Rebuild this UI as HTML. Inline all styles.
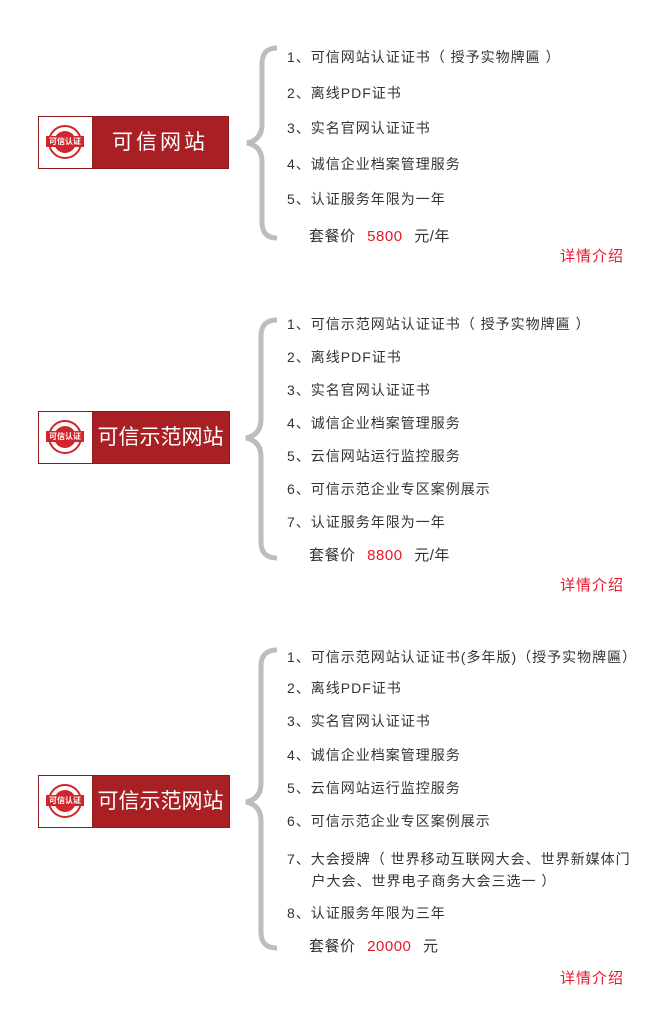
<!DOCTYPE html>
<html><head><meta charset="utf-8"><style>
body{margin:0;width:645px;height:1029px;background:#fff;position:relative;overflow:hidden;font-family:"Liberation Sans","Noto Sans CJK SC",sans-serif;color:#333}
.t{position:absolute;left:287px;font-size:14px;line-height:16px;white-space:nowrap;letter-spacing:1px}
.p{position:absolute;left:309px;font-size:15px;line-height:18px;white-space:nowrap;letter-spacing:0.5px}
.p b{font-weight:normal;color:#e8162a;margin:0 7px}
.d{position:absolute;left:560px;font-size:15px;line-height:18px;color:#e8162a;letter-spacing:1px}
.box{position:absolute;left:38px;height:53px;background:#a82024;border:1px solid #8e1a1d;box-sizing:border-box}
.logo{position:absolute;left:0;top:0;width:53px;height:51px;background:#fff;border-right:1px solid #8e1a1d}
.logo .c{position:absolute;left:9px;top:8px;width:34px;height:34px;border-radius:50%;border:2px solid #d0252b;box-sizing:border-box}
.logo .c i{position:absolute;left:4px;top:4px;width:22px;height:22px;border-radius:50%;background:#d0252b}
.logo .c span{position:absolute;left:-4px;top:9px;width:38px;height:11px;background:#d0252b;color:#fff;font-size:8px;line-height:11px;text-align:center;font-style:normal;font-weight:bold}
.name{position:absolute;left:53px;right:0;top:0;height:51px;line-height:51px;text-align:center;color:#fff;font-size:21px}
svg{position:absolute;left:0;top:0}
</style></head><body>
<svg width="645" height="1029"><g fill="none" stroke="#bdbdbd" stroke-width="5" stroke-linecap="butt">
<path d="M277,48 Q262,48 262,64 L262,124 Q262,140 247,143 Q262,146 262,162 L262,222 Q262,238 277,238"/>
<path d="M277,320 Q261,320 261,336 L261,419 Q261,435 246,438 Q261,441 261,457 L261,542 Q261,558 277,558"/>
<path d="M277,650 Q261,650 261,666 L261,783 Q261,799 246,802 Q261,805 261,821 L261,932 Q261,948 277,948"/>
</g></svg>

<div class="box" style="top:116px;width:191px"><div class="logo"><div class="c"><i></i><span>可信认证</span></div></div><div class="name" style="letter-spacing:3px">可信网站</div></div>
<div class="box" style="top:411px;width:192px"><div class="logo"><div class="c"><i></i><span>可信认证</span></div></div><div class="name">可信示范网站</div></div>
<div class="box" style="top:775px;width:192px"><div class="logo"><div class="c"><i></i><span>可信认证</span></div></div><div class="name">可信示范网站</div></div>

<div class="t" style="top:49px">1、可信网站认证证书（ 授予实物牌匾 ）</div>
<div class="t" style="top:85px">2、离线PDF证书</div>
<div class="t" style="top:120px">3、实名官网认证证书</div>
<div class="t" style="top:156px">4、诚信企业档案管理服务</div>
<div class="t" style="top:191px">5、认证服务年限为一年</div>
<div class="p" style="top:228px">套餐价 <b>5800</b> 元/年</div>
<div class="d" style="top:248px">详情介绍</div>

<div class="t" style="top:316px">1、可信示范网站认证证书（ 授予实物牌匾 ）</div>
<div class="t" style="top:349px">2、离线PDF证书</div>
<div class="t" style="top:382px">3、实名官网认证证书</div>
<div class="t" style="top:415px">4、诚信企业档案管理服务</div>
<div class="t" style="top:448px">5、云信网站运行监控服务</div>
<div class="t" style="top:481px">6、可信示范企业专区案例展示</div>
<div class="t" style="top:514px">7、认证服务年限为一年</div>
<div class="p" style="top:547px">套餐价 <b>8800</b> 元/年</div>
<div class="d" style="top:577px">详情介绍</div>

<div class="t" style="top:649px">1、可信示范网站认证证书(多年版)（授予实物牌匾）</div>
<div class="t" style="top:680px">2、离线PDF证书</div>
<div class="t" style="top:713px">3、实名官网认证证书</div>
<div class="t" style="top:747px">4、诚信企业档案管理服务</div>
<div class="t" style="top:780px">5、云信网站运行监控服务</div>
<div class="t" style="top:813px">6、可信示范企业专区案例展示</div>
<div class="t" style="top:848px;line-height:22px">7、大会授牌（ 世界移动互联网大会、世界新媒体门<br>&nbsp;&nbsp;&nbsp;&nbsp;&nbsp;户大会、世界电子商务大会三选一 ）</div>
<div class="t" style="top:905px">8、认证服务年限为三年</div>
<div class="p" style="top:938px">套餐价 <b>20000</b> 元</div>
<div class="d" style="top:970px">详情介绍</div>
</body></html>
